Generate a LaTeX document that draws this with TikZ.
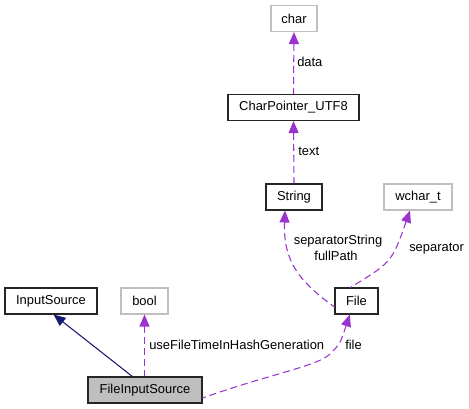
\documentclass[tikz,border=0pt]{standalone}
\usepackage{fontspec}
\setmainfont{Liberation Sans}
\usetikzlibrary{arrows.meta}
\definecolor{edgep}{HTML}{9A32CD}
\definecolor{navyc}{HTML}{191970}
\definecolor{lgray}{HTML}{BFBFBF}
\begin{document}
\begin{tikzpicture}[x=0.75pt,y=-0.75pt,
  lbl/.style={font=\fontsize{9.7}{11}\selectfont, inner sep=0},
  box/.style={draw=black!85, line width=0.8pt, inner sep=0, font=\fontsize{9.7}{11}\selectfont, minimum height=19.5pt},
  gbox/.style={box, draw=lgray},
  dep/.style={draw=edgep, line width=0.8pt, dash pattern=on 5.25pt off 3pt, {Triangle[length=9pt,width=7.5pt,fill=edgep]}-},
  inh/.style={draw=navyc, line width=0.8pt, {Triangle[length=9pt,width=7.5pt,fill=navyc]}-}]
\useasboundingbox (0,0) rectangle (469,409);
\node[gbox, minimum width=34.5pt] (char) at (294,18.5) {char};
\node[box, minimum width=98.25pt] (cp) at (293.5,107.5) {CharPointer\_UTF8};
\node[box, minimum width=42pt] (str) at (294,197) {String};
\node[gbox, minimum width=51pt] (wch) at (418,197) {wchar\_t};
\node[box, minimum width=32.25pt] (file) at (356.5,301) {File};
\node[box, minimum width=69pt] (inp) at (51,301) {InputSource};
\node[gbox, minimum width=35.25pt] (bool) at (144.5,301) {bool};
\node[box, fill=lgray, minimum width=85.5pt] (fis) at (145,390) {FileInputSource};

\draw[dep] (char.south) -- (cp.north);
\draw[dep] (cp.south) -- (str.north);
\draw[dep] ([xshift=-6.75pt]str.south) .. controls (283,262) and (300,282) .. ([yshift=-4.5pt]file.west);
\draw[dep] ([xshift=-6pt]wch.south) .. controls (392,262) .. ([xshift=12pt]file.north west);
\draw[inh] ([xshift=-33pt]inp.south east) -- ([xshift=-9.5pt]fis.north);
\draw[dep] (bool.south) -- (bool.south |- fis.north);
\draw[dep] ([xshift=-5pt]file.south) .. controls (340,344) .. (330,354) .. controls (318,366) and (270,374) .. ([yshift=-6pt]fis.east);

\node[lbl, anchor=west] at (297,62) {data};
\node[lbl, anchor=west] at (298,151) {text};
\node[lbl] at (338,241) {separatorString};
\node[lbl] at (336,256) {fullPath};
\node[lbl, anchor=west] at (409,249) {separator};
\node[lbl, anchor=west] at (149,345) {useFileTimeInHashGeneration};
\node[lbl, anchor=west] at (345,345) {file};
\end{tikzpicture}
\end{document}
